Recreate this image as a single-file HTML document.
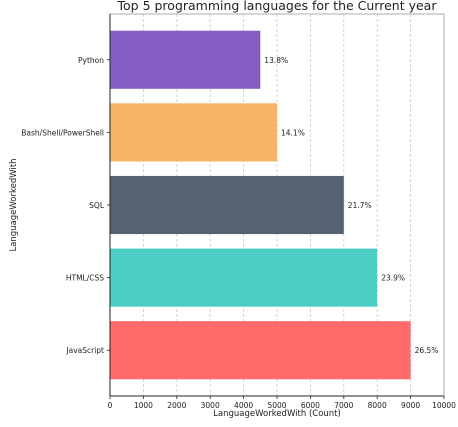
<!DOCTYPE html>
<html><head><meta charset="utf-8"><style>
body{margin:0;background:#fff;width:458px;height:422px;overflow:hidden;font-family:"Liberation Sans","DejaVu Sans",sans-serif}
</style></head><body>
<svg id="chart" width="458" height="422" xmlns="http://www.w3.org/2000/svg" font-family="DejaVu Sans, Liberation Sans, sans-serif">
<text x="277" y="10" text-anchor="middle" font-size="12.5" fill="#222">Top 5 programming languages for the Current year</text>
<g id="grid"></g><g id="bars"></g><g id="axes"></g>
<text x="277" y="416" text-anchor="middle" font-size="8.5" fill="#222">LanguageWorkedWith (Count)</text>
<text transform="translate(16,205) rotate(-90)" text-anchor="middle" font-size="8.5" fill="#222">LanguageWorkedWith</text>
</svg>
<script>
const categories=["JavaScript","HTML/CSS","SQL","Bash/Shell/PowerShell","Python"];
const counts=[9000,8000,7000,5000,4500];
const pctLabels=["26.5%","23.9%","21.7%","14.1%","13.8%"];
const colors=["#ff6b6b","#4ecdc4","#556270","#f7b267","#845ec2"];
const xTicks=[0,1000,2000,3000,4000,5000,6000,7000,8000,9000,10000];
const NS="http://www.w3.org/2000/svg";
const L=110,R=444,T=14,B=396;
const xs=v=>L+(v/10000)*(R-L);
const step=(B-T)/5.26;
const yc=i=>B-(0.63+i)*step;
function mk(tag,attrs,parent){const e=document.createElementNS(NS,tag);for(const k in attrs)e.setAttribute(k,attrs[k]);parent.appendChild(e);return e;}
const grid=document.getElementById('grid'),bars=document.getElementById('bars'),axes=document.getElementById('axes');
xTicks.forEach(t=>{
 if(t>0&&t<10000){const g=mk('line',{x1:xs(t),x2:xs(t),y1:T,y2:B,stroke:'#ccc','stroke-dasharray':'3,2','stroke-width':0.8},grid);
 
 }
 const tk=mk('line',{x1:xs(t),x2:xs(t),y1:B,y2:B+3,stroke:'#222','stroke-width':0.8},axes);
 
 
 const tl=mk('text',{x:xs(t),y:B+12,'text-anchor':'middle','font-size':7.5,fill:'#222'},axes);tl.textContent=t;
 
 
});
categories.forEach((c,i)=>{
 const h=step*0.8,y=yc(i);
 const r=mk('rect',{x:L,y:y-h/2,width:xs(counts[i])-L,height:h,fill:colors[i]},bars);
 
 
 const v=mk('text',{x:xs(counts[i])+4,y:y+3,'font-size':7.5,fill:'#222'},bars);v.textContent=pctLabels[i];
 
 
 const tk=mk('line',{x1:L-3,x2:L,y1:y,y2:y,stroke:'#222','stroke-width':0.8},axes);
 
 
 const tl=mk('text',{x:L-6,y:y+3,'text-anchor':'end','font-size':7.5,fill:'#222'},axes);tl.textContent=c;
 
 
});
const fr=mk('rect',{x:L,y:T,width:R-L,height:B-T,fill:'none',stroke:'#999','stroke-width':0.8},axes);


mk('line',{x1:L,x2:R,y1:B,y2:B,stroke:'#222','stroke-width':1},axes);
mk('line',{x1:L,x2:L,y1:T,y2:B,stroke:'#222','stroke-width':1},axes);
</script>
</body></html>
